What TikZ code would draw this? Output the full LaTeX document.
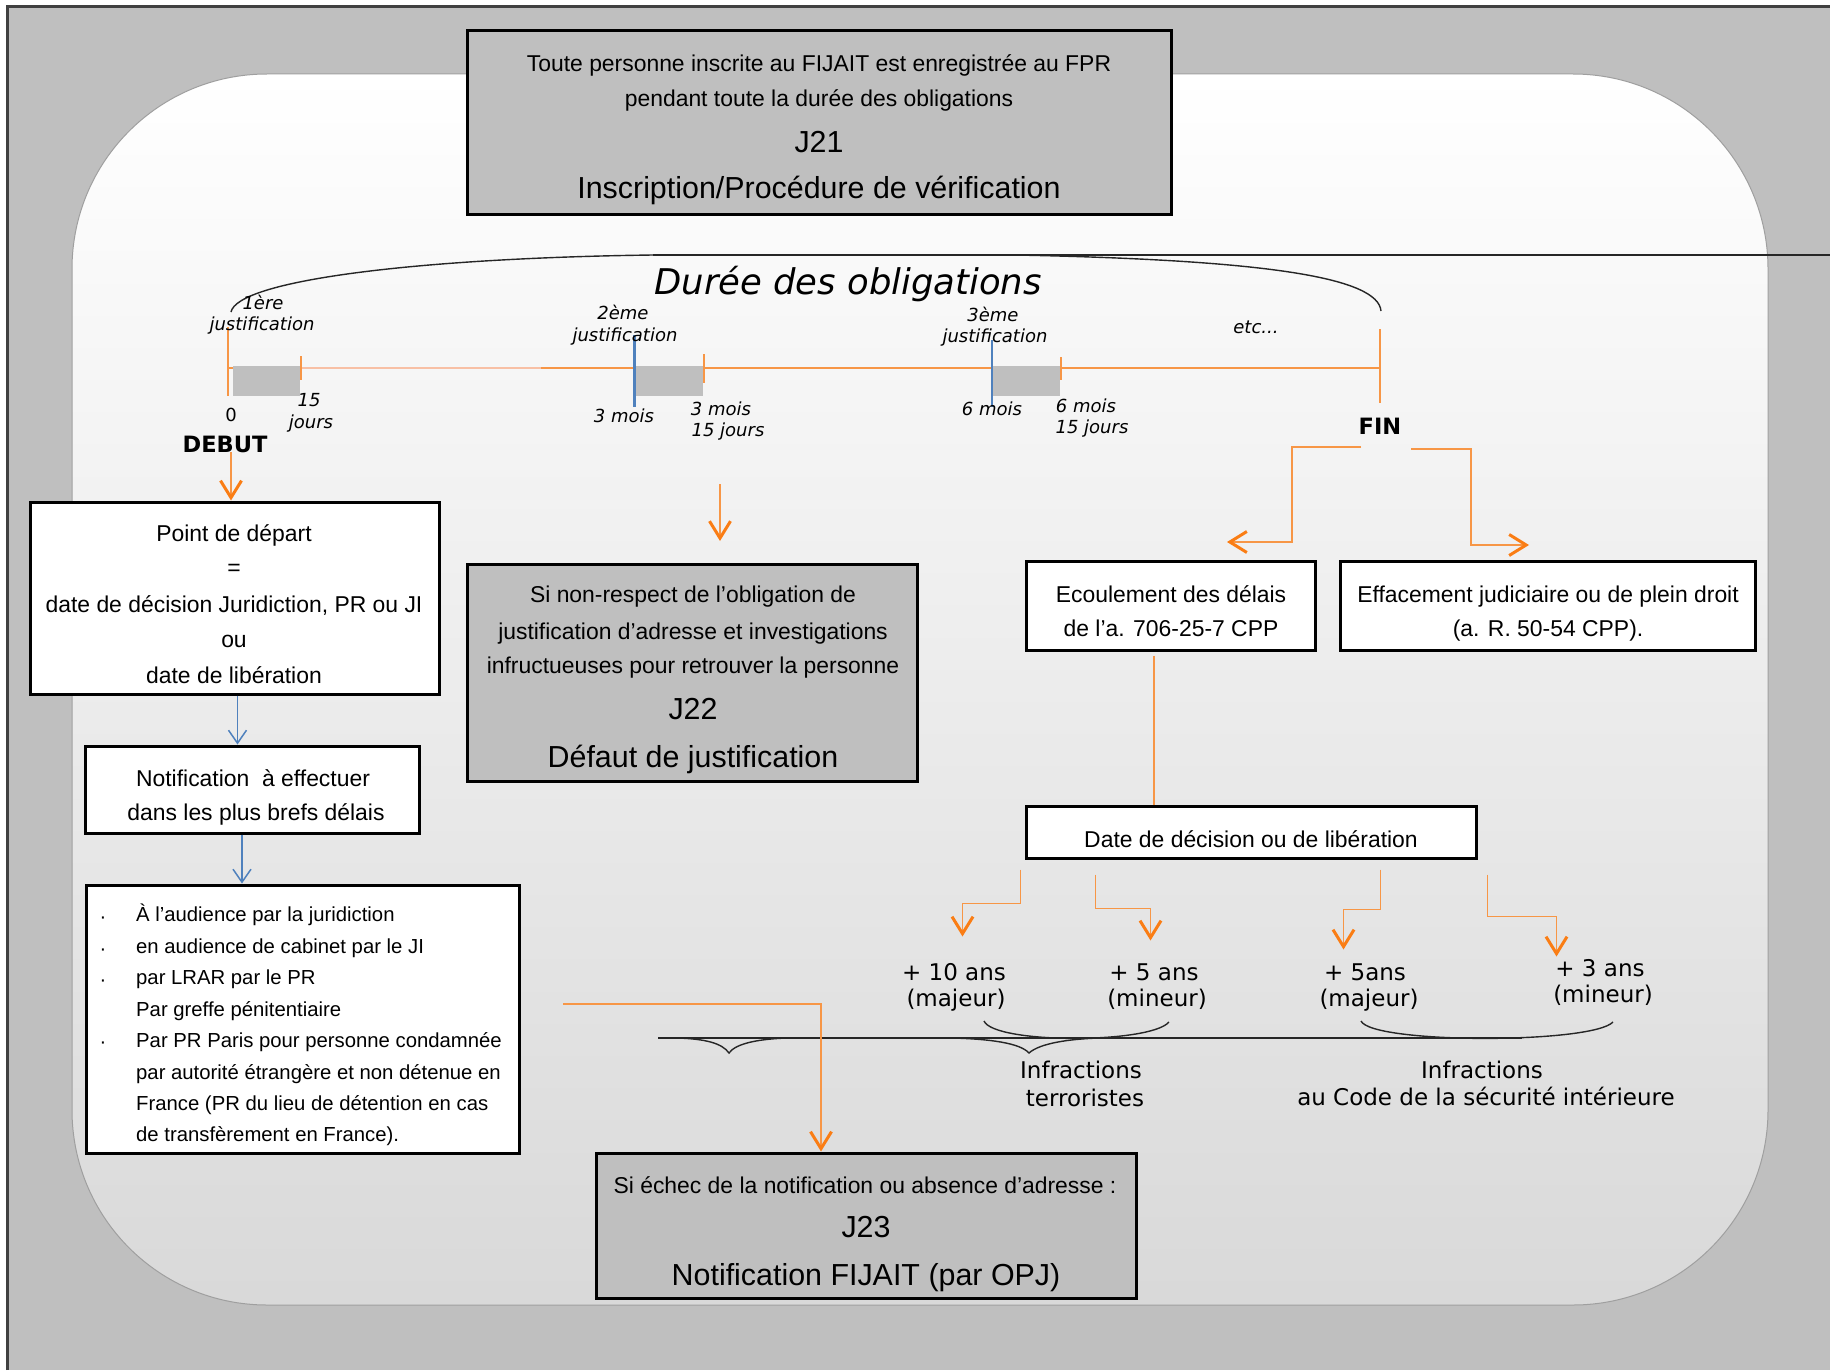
\documentclass[tikz,border=0pt]{standalone}
\usepackage{fontspec}
\setmainfont{Liberation Sans}
\newfontfamily\dejavu{DejaVu Sans}
\usetikzlibrary{arrows.meta}
\definecolor{lorange}{RGB}{247,150,70}
\definecolor{lightor}{RGB}{248,192,165}
\definecolor{aorange}{RGB}{250,125,20}
\definecolor{bblue}{RGB}{79,129,189}
\definecolor{bggray}{RGB}{191,191,191}
\definecolor{edgegray}{RGB}{64,64,64}
\begin{document}
\begin{tikzpicture}[x=1pt,y=-1pt,
  box/.style={draw=black, line width=3pt, inner sep=0pt},
  wbox/.style={box, fill=white},
  gbox/.style={box, fill=bggray},
  lab/.style={inner sep=0pt, anchor=mid},
  labw/.style={inner sep=0pt, anchor=mid west},
  fa/.style={font=\fontsize{22.9}{27}\selectfont, yshift=-6pt},
  fb/.style={font=\fontsize{30.4}{36}\selectfont, yshift=-8pt},
  fl/.style={font=\fontsize{20.3}{24}\selectfont, yshift=-6pt},
  ft/.style={font=\dejavu\itshape\fontsize{18}{21}\selectfont, yshift=-4pt},
  ftu/.style={font=\dejavu\fontsize{18}{21}\selectfont, yshift=-4pt},
  fbig/.style={font=\dejavu\itshape\fontsize{35.4}{40}\selectfont, yshift=-7pt},
  fbold/.style={font=\dejavu\bfseries\fontsize{22.5}{26}\selectfont, yshift=-7pt},
  fv/.style={font=\dejavu\fontsize{23}{27}\selectfont, yshift=-6pt},
  oline/.style={draw=lorange, line width=1.8pt},
  oarr/.style={oline, -{Straight Barb[length=17pt,width=21pt,line width=3pt,color=aorange]}},
  barr/.style={draw=bblue, line width=1.3pt, -{Straight Barb[length=13pt,width=18pt,line width=1.5pt]}},
  tline/.style={lorange, line width=2pt},
  bline/.style={black!85, line width=1.4pt},
]
\useasboundingbox (0,0) rectangle (1830,1370);
% background
\fill[white] (0,0) rectangle (1830,1370);
\fill[bggray] (7,7) rectangle (1830,1370);
\draw[edgegray, line width=3pt] (7.5,1370) -- (7.5,6.5) -- (1830,6.5);
\shade[top color=white, bottom color=gray!30, draw=gray!75, line width=1pt, rounded corners=195pt] (72,74) rectangle (1768,1305);

% J21 box
\node[gbox, minimum width=704pt, minimum height=183pt] (j21) at (819,122.5) {};
\node[lab, fa] (n21a) at (819,63) {Toute personne inscrite au FIJAIT est enregistrée au FPR};
\node[lab, fa] (n21b) at (819,98) {pendant toute la durée des obligations};
\node[lab, fb] (n21c) at (819,142) {J21};
\node[lab, fb] (n21d) at (819,188) {Inscription/Procédure de vérification};

% arc over the timeline
\draw[bline] (231,312) .. controls (238,280) and (420,258) .. (653,255);
\draw[bline] (653,255) -- (1830,255);
\draw[bline] (1015,255) .. controls (1270,260) and (1378,278) .. (1381,311);
\node[lab, fbig] (duree) at (848,285) {Durée des obligations};

% timeline
\draw[tline] (228,368) -- (1380,368);
\draw[lightor, line width=2pt] (301,368) -- (541,368);
\draw[tline] (228,327) -- (228,396);
\draw[tline] (301,356) -- (301,380);
\draw[tline] (704,354) -- (704,383);
\draw[tline] (1061,357) -- (1061,380);
\draw[tline] (1380,329) -- (1380,403);
\fill[bggray] (233,366) rectangle (300,396);
\fill[bggray] (636,366) rectangle (703,396);
\fill[bggray] (993,366) rectangle (1060,396);
\draw[bblue, line width=3pt] (634,335) -- (634,407);
\draw[bblue, line width=2pt] (992,340) -- (992,407);

\node[lab, ft] (t1a) at (263,303) {1ère};
\node[lab, ft] (t1b) at (262,324) {justification};
\node[lab, ftu] (t0) at (231,415) {0};
\node[lab, ft] (t15a) at (309,400) {15};
\node[lab, ft] (t15b) at (311,422) {jours};
\node[lab, fbold] (tdeb) at (225,443) {DEBUT};
\node[lab, ft] (t2a) at (623,313) {2ème};
\node[lab, ft] (t2b) at (625,335) {justification};
\node[lab, ft] (t3m) at (624,416) {3 mois};
\node[lab, ft] (t3ma) at (721,409) {3 mois};
\node[lab, ft] (t3mb) at (728,430) {15 jours};
\node[lab, ft] (t3a) at (993,315) {3ème};
\node[lab, ft] (t3b) at (995,336) {justification};
\node[lab, ft] (t6m) at (992,409) {6 mois};
\node[lab, ft] (t6ma) at (1086,406) {6 mois};
\node[lab, ft] (t6mb) at (1092,427) {15 jours};
\node[lab, ft] (tetc) at (1256,327) {etc...};
\node[lab, fbold] (tfin) at (1380,425) {FIN};

% Point de depart
\node[wbox, minimum width=409pt, minimum height=192pt] (point) at (234.5,598) {};
\node[lab, fa] (p1) at (234,533) {Point de départ};
\node[lab, fa] (p2) at (234,567) {=};
\node[lab, fa] (p3) at (234,604) {date de décision Juridiction, PR ou JI};
\node[lab, fa] (p4) at (234,639) {ou};
\node[lab, fa] (p5) at (234,675) {date de libération};

\coordinate (debA) at (231,452);
\draw[oarr] (debA) -- (debA |- point.north);

% Notification
\node[wbox, minimum width=334pt, minimum height=87pt] (notif) at (252,789.5) {};
\node[lab, fa] (nt1) at (253,778) {Notification~ à effectuer};
\node[lab, fa] (nt2) at (256,812) {dans les plus brefs délais};
\draw[barr] ([xshift=3pt]point.south) -- ([xshift=3pt]point.south |- notif.north);

% list box
\node[wbox, minimum width=433pt, minimum height=268pt] (list) at (302.5,1019) {};
\draw[barr] ([xshift=-10pt]notif.south) -- ([xshift=-10pt]notif.south |- list.north);
\node[lab, fl] (b1) at (103,915) {·};
\node[lab, fl] (b2) at (103,947) {·};
\node[lab, fl] (b3) at (103,978) {·};
\node[lab, fl] (b5) at (103,1040) {·};
\node[labw, fl] (l1) at (136,913) {À l'audience par la juridiction};
\node[labw, fl] (l2) at (136,945) {en audience de cabinet par le JI};
\node[labw, fl] (l3) at (136,976) {par LRAR par le PR};
\node[labw, fl] (l4) at (136,1008) {Par greffe pénitentiaire};
\node[labw, fl] (l5) at (136,1039) {Par PR Paris pour personne condamnée};
\node[labw, fl] (l6) at (136,1071) {par autorité étrangère et non détenue en};
\node[labw, fl] (l7) at (136,1102) {France (PR du lieu de détention en cas};
\node[labw, fl] (l8) at (136,1133) {de transfèrement en France).};

% J22
\node[gbox, minimum width=450pt, minimum height=217pt] (j22) at (692,672.5) {};
\node[lab, fa] (n22a) at (693,594) {Si non-respect de l’obligation de};
\node[lab, fa] (n22b) at (693,631) {justification d’adresse et investigations};
\node[lab, fa] (n22c) at (693,665) {infructueuses pour retrouver la personne};
\node[lab, fb] (n22d) at (693,709) {J22};
\node[lab, fb] (n22e) at (693,757) {Défaut de justification};
\coordinate (j22s) at (720,484);
\coordinate (j22t) at (720,541);
\draw[oarr] (j22s) -- (j22t);

% FIN branches
\coordinate (finL) at (1361,447);
\coordinate (finR) at (1411,449);
\draw[oarr] (finL) -- ++(-69,0) -- ++(0,95) -- ++(-65,0);
\draw[oarr] (finR) -- ++(60,0) -- ++(0,96) -- ++(58,0);

% Ecoulement / Effacement
\node[wbox, minimum width=289pt, minimum height=89pt] (ecoul) at (1170.5,605.5) {};
\node[lab, fa] (e1) at (1171,594) {Ecoulement des délais};
\node[lab, fa] (e2) at (1171,628) {de l’a. 706-25-7 CPP};
\node[wbox, minimum width=415pt, minimum height=89pt] (effac) at (1547.5,605.5) {};
\node[lab, fa] (f1) at (1548,594) {Effacement judiciaire ou de plein droit};
\node[lab, fa] (f2) at (1548,628) {(a. R. 50-54 CPP).};

% Date box
\node[wbox, minimum width=450pt, minimum height=52pt] (date) at (1251,832) {};
\node[lab, fa] (d1) at (1251,839) {Date de décision ou de libération};
\draw[oline] ([xshift=-16.5pt,yshift=-4pt]ecoul.south) -- ([xshift=-16.5pt]ecoul.south |- date.north);

\draw[oarr] ([shift={(-4,10)}]date.south west) -- ++(0,34) -- ++(-58,0) -- ++(0,33);
\draw[oarr] ([shift={(71,15)}]date.south west) -- ++(0,34) -- ++(55,0) -- ++(0,32);
\draw[oarr] ([shift={(356,10)}]date.south west) -- ++(0,40) -- ++(-37,0) -- ++(0,40);
\draw[oarr] ([shift={(10,15)}]date.south east) -- ++(0,42) -- ++(69,0) -- ++(0,40);

\node[lab, fv] (a1) at (954,972) {+ 10 ans};
\node[lab, fv] (a2) at (956,998) {(majeur)};
\node[lab, fv] (a3) at (1154,972) {+ 5 ans};
\node[lab, fv] (a4) at (1157,998) {(mineur)};
\node[lab, fv] (a5) at (1365,972) {+ 5ans};
\node[lab, fv] (a6) at (1369,998) {(majeur)};
\node[lab, fv] (a7) at (1600,968) {+ 3 ans};
\node[lab, fv] (a8) at (1603,994) {(mineur)};

% braces and line
\draw[bline] (658,1038) -- (1522,1038);
\draw[bline] (678,1038) .. controls (705,1039) and (722,1043) .. (729,1053) .. controls (736,1043) and (760,1039) .. (787,1038);
\draw[bline] (952,1038) .. controls (990,1039) and (1020,1043) .. (1029,1053) .. controls (1040,1043) and (1070,1039) .. (1099,1038);
\draw[bline] (984,1021) .. controls (994,1044) and (1150,1044) .. (1169,1022);
\draw[bline] (1361,1021) .. controls (1372,1044) and (1592,1044) .. (1613,1022);

\node[lab, fv] (i1) at (1081,1070) {Infractions};
\node[lab, fv] (i2) at (1085,1098) {terroristes};
\node[lab, fv] (i3) at (1482,1070) {Infractions};
\node[lab, fv] (i4) at (1486,1097) {au Code de la sécurité intérieure};

% J23
\node[gbox, minimum width=540pt, minimum height=145pt] (j23) at (866,1225.5) {};
\node[lab, fa] (n23a) at (865,1185) {Si échec de la notification ou absence d’adresse :};
\node[lab, fb] (n23b) at (866,1227) {J23};
\node[lab, fb] (n23c) at (866,1275) {Notification FIJAIT (par OPJ)};
\coordinate (fs) at (563,1004);
\draw[oarr] (fs) -| ([xshift=-45pt]j23.north);
\end{tikzpicture}
\end{document}
